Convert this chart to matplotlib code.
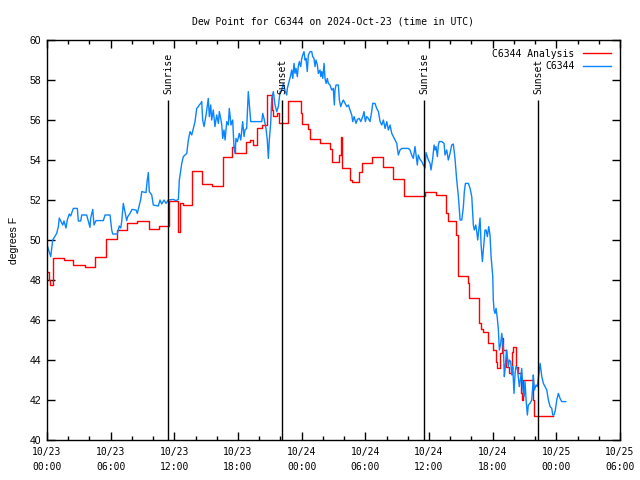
import numpy as np
import matplotlib.pyplot as plt
from datetime import datetime, timedelta

start = datetime(2024, 10, 23, 0, 0)

# observed dew point, hours since 2024-10-23 00:00 UTC
obs_hours = [
    0.00, 0.09, 0.35, 0.54, 0.91, 1.07, 1.16, 1.29, 1.48, 1.60, 1.79, 1.91, 2.10, 2.23,
    2.42, 2.48, 2.86, 2.95, 3.18, 3.27, 3.74, 3.89, 4.05, 4.12, 4.31, 4.43, 4.62, 5.31,
    5.47, 5.94, 6.10, 6.19, 6.63, 6.81, 6.95, 7.04, 7.19, 7.35, 7.51, 7.61, 7.82, 8.01,
    8.39, 8.51, 8.83, 8.93, 9.33, 9.45, 9.55, 9.64, 9.87, 10.02, 10.49, 10.65, 10.81,
    11.03, 11.22, 11.43, 11.90, 12.16, 12.38, 12.47, 12.70, 12.85, 13.17, 13.32, 13.48,
    13.64, 13.79, 13.95, 14.11, 14.26, 14.35, 14.49, 14.58, 14.67, 14.80, 14.99, 15.20,
    15.30, 15.43, 15.52, 15.67, 15.83, 15.99, 16.15, 16.24, 16.37, 16.47, 16.56, 16.68,
    16.78, 16.94, 17.09, 17.18, 17.34, 17.50, 17.62, 17.72, 17.81, 17.94, 18.12, 18.26,
    18.44, 18.57, 18.66, 18.82, 18.97, 19.07, 19.20, 20.24, 20.33, 20.45, 20.64, 20.76,
    20.86, 20.95, 21.08, 21.18, 21.33, 21.49, 21.65, 21.80, 21.96, 22.12, 22.27, 22.46,
    22.59, 22.65, 22.97, 23.06, 23.16, 23.28, 23.37, 23.47, 23.59, 23.68, 23.78, 23.91,
    24.01, 24.10, 24.22, 24.32, 24.41, 24.53, 24.63, 24.79, 24.95, 25.04, 25.16, 25.26,
    25.35, 25.48, 25.57, 25.73, 25.80, 25.89, 25.99, 26.11, 26.20, 26.30, 26.42, 26.51,
    26.67, 26.83, 26.98, 27.08, 27.14, 27.24, 27.46, 27.55, 27.68, 27.78, 27.93, 28.09,
    28.25, 28.40, 28.56, 28.72, 28.81, 28.94, 29.12, 29.25, 29.43, 29.57, 29.76, 29.88,
    30.00, 30.13, 30.28, 30.44, 30.60, 30.70, 30.91, 31.07, 31.23, 31.39, 31.55, 31.70,
    31.86, 32.02, 32.17, 32.33, 32.49, 32.64, 32.80, 32.96, 33.11, 33.27, 33.43, 33.74,
    34.05, 34.21, 34.37, 34.52, 34.68, 34.78, 34.90, 34.99, 35.16, 35.32, 35.47, 35.63,
    35.72, 35.84, 35.94, 36.10, 36.19, 36.35, 36.48, 36.57, 36.66, 36.79, 36.88, 36.97,
    37.20, 37.42, 37.51, 37.67, 37.82, 37.98, 38.14, 38.29, 38.45, 38.61, 38.77, 38.93,
    39.09, 39.24, 39.33, 39.43, 39.71, 39.87, 40.03, 40.18, 40.27, 40.41, 40.50, 40.59,
    40.69, 40.81, 40.91, 41.03, 41.12, 41.28, 41.38, 41.50, 41.63, 41.75, 41.85, 42.01,
    42.06, 42.13, 42.22, 42.32, 42.44, 42.54, 42.63, 42.76, 42.86, 42.95, 43.01, 43.10,
    43.19, 43.32, 43.48, 43.57, 43.70, 43.80, 43.89, 44.01, 44.11, 44.20, 44.33, 44.51,
    44.65, 44.74, 44.84, 44.96, 45.05, 45.15, 45.27, 45.36, 45.52, 45.68, 45.78, 45.83,
    45.93, 46.09, 46.21, 46.34, 46.47, 46.63, 46.78, 46.94, 47.10, 47.25, 47.41, 47.57,
    47.66, 47.78, 47.91, 48.04, 48.19, 48.35, 48.51, 48.89,
]
obs_dewpt = [
    49.80, 49.60, 49.17, 50.00, 50.33, 50.67, 51.10, 50.95, 50.75, 50.95, 50.60, 51.00, 51.30, 51.20,
    51.50, 51.58, 51.58, 50.95, 50.95, 51.25, 51.25, 50.95, 50.63, 51.10, 51.53, 50.75, 50.97, 50.97,
    51.25, 51.25, 50.50, 50.30, 50.30, 50.70, 50.60, 50.92, 51.83, 51.40, 50.97, 51.17, 51.33, 51.53,
    51.50, 51.33, 52.03, 52.42, 52.37, 53.00, 53.37, 52.42, 52.25, 51.75, 51.70, 52.00, 51.80,
    52.00, 51.83, 52.00, 52.03, 51.97, 52.03, 53.00, 53.83, 54.17, 54.33, 55.00, 55.42,
    55.25, 55.58, 55.92, 56.58, 56.67, 56.75, 56.83, 56.92, 56.00, 55.67, 56.25, 57.08,
    56.17, 56.75, 56.00, 56.50, 55.67, 56.25, 55.83, 56.42, 56.08, 55.75, 55.08, 55.50,
    55.00, 55.92, 55.75, 56.58, 55.75, 56.00, 54.67, 54.33, 55.08, 54.92, 55.33, 55.00,
    55.92, 55.17, 55.50, 55.58, 57.42, 56.75, 55.92, 55.92, 56.33, 56.08, 55.58, 55.00,
    54.08, 55.00, 55.83, 57.08, 57.42, 56.75, 56.42, 56.67, 57.40, 57.50, 57.83, 57.42,
    57.25, 57.58, 58.25, 58.50, 58.08, 58.83, 58.33, 58.58, 58.17, 58.67, 58.92, 58.67,
    59.08, 59.25, 59.42, 59.00, 59.08, 58.42, 59.25, 59.42, 59.42, 59.17, 59.08, 58.67,
    59.00, 58.75, 58.33, 58.50, 58.17, 58.42, 58.08, 58.83, 58.08, 57.83, 58.08, 57.83,
    57.75, 57.50, 57.58, 56.75, 57.50, 57.75, 57.75, 57.00, 56.67, 56.83, 57.00, 56.83,
    56.67, 56.75, 56.50, 56.25, 55.92, 56.17, 55.83, 56.03, 56.08, 55.92, 56.17, 56.42,
    55.92, 56.17, 56.08, 55.92, 56.42, 56.83, 56.83, 56.58, 56.42, 55.92, 55.75, 56.00,
    55.58, 55.92, 55.50, 55.75, 55.33, 55.17, 55.00, 54.83, 54.25, 54.50, 54.58, 54.58,
    54.58, 54.50, 54.25, 54.08, 54.67, 54.25, 53.75, 54.25, 54.03, 53.92, 53.75, 53.60,
    54.37, 54.17, 54.00, 53.83, 53.50, 54.08, 54.75, 54.50, 54.67, 54.17, 54.75, 54.92,
    54.92, 54.83, 54.25, 54.50, 54.00, 54.33, 54.75, 54.80, 54.08, 53.00, 52.17, 51.00,
    51.00, 51.67, 52.42, 52.83, 52.83, 52.58, 52.17, 50.75, 50.50, 50.75, 50.42, 50.00,
    50.50, 51.10, 49.75, 48.92, 49.50, 50.50, 50.50, 50.17, 50.67, 50.25, 49.17, 48.17,
    47.00, 46.50, 46.33, 46.58, 46.08, 45.50, 44.50, 44.83, 45.33, 44.83, 44.58, 43.17,
    43.67, 44.50, 43.67, 44.00, 43.92, 43.25, 43.67, 42.33, 43.33, 43.67, 43.58, 42.67,
    43.17, 43.58, 42.58, 42.17, 42.92, 42.00, 41.25, 41.75, 41.83, 42.00, 42.67, 43.25,
    42.50, 42.75, 42.67, 43.25, 43.83, 43.17, 42.83, 42.67, 42.50, 42.00, 41.67, 41.58,
    41.25, 41.25, 41.50, 42.00, 42.33, 42.08, 41.92, 41.92,
]

# analysis dew point (step values, hold until next time)
ana_hours = [
    0.00, 0.19, 0.28, 0.59, 1.60, 2.48, 3.58, 4.52, 5.53, 6.60, 7.54, 8.45, 9.61, 10.56,
    11.50, 12.35, 12.58, 12.82, 13.64, 14.58, 15.52, 16.59, 17.41, 17.72, 18.76, 19.13,
    19.44, 19.82, 20.24, 20.71, 21.21, 21.33, 21.65, 21.90, 22.67, 23.91, 24.03, 24.60,
    24.79, 25.73, 26.67, 26.83, 27.52, 27.71, 27.80, 28.56, 28.72, 29.41, 29.66, 30.60,
    31.64, 32.61, 33.65, 35.63, 36.66, 37.61, 37.79, 38.55, 38.74, 39.68, 39.77, 40.72,
    40.90, 41.09, 41.56, 42.03, 42.32, 42.41, 42.69, 42.86, 42.98, 43.26, 43.54, 43.80,
    43.92, 44.20, 44.39, 44.65, 44.74, 44.86, 45.80, 45.90, 47.66,
]
ana_dewpt = [
    48.40, 48.00, 47.75, 49.10, 49.00, 48.75, 48.65, 49.17, 50.05, 50.50, 50.85, 50.97, 50.55, 50.70,
    51.95, 50.40, 51.85, 51.75, 53.45, 52.80, 52.70, 54.17, 54.67, 54.33, 54.90, 55.00,
    54.75, 55.60, 55.75, 57.25, 56.50, 56.20, 56.37, 55.83, 56.95, 56.33, 55.80, 55.55,
    55.05, 54.87, 54.55, 53.90, 54.25, 55.17, 53.60, 53.00, 52.92, 53.42, 53.83, 54.15,
    53.63, 53.05, 52.20, 52.42, 52.25, 51.37, 50.97, 50.25, 48.20, 47.87, 47.10, 45.85,
    45.55, 45.42, 44.83, 44.50, 43.92, 43.58, 44.33, 45.08, 44.50, 43.67, 43.33, 44.42,
    44.67, 43.67, 43.33, 42.33, 42.00, 43.00, 42.00, 41.20, 41.20,
]

sun_hours = [11.40, 22.15, 35.53, 46.28]
sun_names = ['Sunrise', 'Sunset', 'Sunrise', 'Sunset']
sun_top = 57.0

mono = 'DejaVu Sans Mono'
sans = 'Liberation Sans'

fig = plt.figure(figsize=(6.4, 4.8), dpi=100)
ax = fig.add_axes([47 / 640, 40 / 480, 573 / 640, 400 / 480])

ax.plot(ana_hours, ana_dewpt, color='#ff0000', lw=1.0, drawstyle='steps-post',
        label='C6344 Analysis')
ax.plot(obs_hours, obs_dewpt, color='#0a84ff', lw=1.0, label='C6344')

for h, name in zip(sun_hours, sun_names):
    ax.vlines(h, 40, sun_top, color='black', lw=1.0, zorder=5)
    ax.text(h, sun_top + 0.3, name, rotation=90, ha='center', va='bottom',
            family=mono, fontsize=7)

ax.set_xlim(0, 54)
ax.set_ylim(40, 60)

tick_hours = np.arange(0, 55, 6)
tick_labels = [(start + timedelta(hours=int(h))).strftime('%m/%d\n%H:%M') for h in tick_hours]
ax.set_xticks(tick_hours)
ax.set_xticklabels(tick_labels, family=mono, fontsize=7, linespacing=1.6)
ax.set_xticks(np.arange(0, 55, 2), minor=True)
ax.set_yticks(np.arange(40, 61, 2))
ax.set_yticklabels([str(v) for v in range(40, 61, 2)], family=sans, fontsize=7.5)

ax.tick_params(which='both', direction='in', top=True, right=True, width=1)
ax.tick_params(which='major', length=6)
ax.tick_params(which='minor', length=3)
ax.tick_params(axis='x', pad=5)
ax.tick_params(axis='y', pad=4)
for s in ax.spines.values():
    s.set_linewidth(1.0)

ax.set_ylabel('degrees F', family=sans, fontsize=7.5, labelpad=8)
ax.set_title('Dew Point for C6344 on 2024-Oct-23 (time in UTC)', family=mono,
             fontsize=7, pad=11)

leg = ax.legend(loc='upper right', bbox_to_anchor=(1.0, 1.0), frameon=False,
                markerfirst=False, prop={'family': mono, 'size': 7},
                handlelength=2.9, handletextpad=0.9, labelspacing=0.25,
                borderaxespad=0.5)

fig.savefig('out.png', dpi=100)
